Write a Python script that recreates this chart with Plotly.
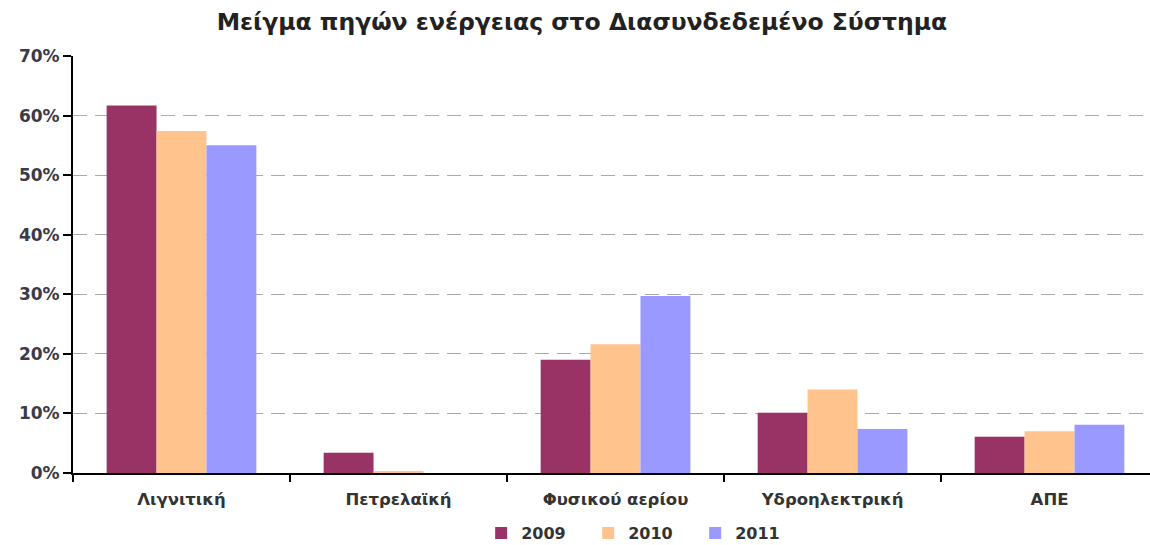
import plotly.graph_objects as go

# Energy mix of the interconnected system, share per source and year
categories = ["Λιγνιτική", "Πετρελαϊκή", "Φυσικού αερίου", "Υδροηλεκτρική", "ΑΠΕ"]
years = ["2009", "2010", "2011"]
share_2009 = [0.617, 0.034, 0.190, 0.101, 0.061]
share_2010 = [0.574, 0.003, 0.216, 0.140, 0.070]
share_2011 = [0.550, 0.000, 0.297, 0.074, 0.081]
colors = ["#993366", "#FFC48E", "#9999FF"]

fig = go.Figure()
for year, vals, col in zip(years, [share_2009, share_2010, share_2011], colors):
    fig.add_trace(go.Bar(
        x=categories, y=vals, name=year,
        marker=dict(color=col, line=dict(width=0)),
    ))

fig.update_layout(
    width=1150, height=545,
    margin=dict(l=73, r=0, t=56, b=72, autoexpand=False),
    paper_bgcolor="white", plot_bgcolor="white",
    barmode="group", bargap=0.31, bargroupgap=0,
    font=dict(family="DejaVu Sans", color="#333333"),
    title=dict(
        text="<b>Μείγμα πηγών ενέργειας στο Διασυνδεδεμένο Σύστημα</b>",
        x=0.506, xref="container", xanchor="center",
        y=0.96, yanchor="middle",
        font=dict(size=23.5, color="#222222"),
    ),
    legend=dict(
        orientation="h", x=0.528, xanchor="center",
        yref="container", y=0.022, yanchor="middle",
        font=dict(size=16, color="#333333", weight="bold"),
        itemwidth=30,
        entrywidth=62, entrywidthmode="pixels",
        traceorder="normal",
    ),
    xaxis=dict(
        range=[-0.5, 4.463],
        showline=True, linecolor="black", linewidth=2,
        ticks="outside", tickson="boundaries", ticklen=7, tickcolor="black", tickwidth=2,
        tickfont=dict(size=16.5, color="#333333", weight="bold"),
        ticklabelstandoff=10,
        showgrid=False,
    ),
    yaxis=dict(
        range=[0, 0.70], tickvals=[0, 0.1, 0.2, 0.3, 0.4, 0.5, 0.6, 0.7],
        tickformat=".0%",
        showline=True, linecolor="black", linewidth=2,
        ticks="outside", ticklen=8, tickcolor="black", tickwidth=2,
        tickfont=dict(size=17, color="#3a3a48", weight="bold"),
        showgrid=True, gridcolor="#AAAAAA", gridwidth=1, griddash="14px,8px",
        zeroline=False,
    ),
)

fig.write_html("out.html")
